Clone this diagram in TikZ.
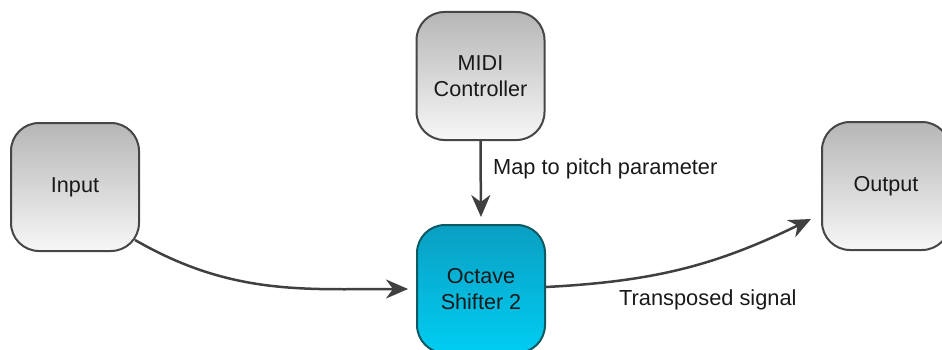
\documentclass[tikz,border=0pt]{standalone}
\usepackage{fontspec}
\setmainfont{Liberation Sans}
\usetikzlibrary{arrows.meta,calc}
\definecolor{grayTop}{HTML}{B6B6B6}
\definecolor{grayBot}{HTML}{F7F7F7}
\definecolor{edgeGray}{HTML}{464646}
\definecolor{tealTop}{HTML}{0A9FC2}
\definecolor{tealBot}{HTML}{00CDF2}
\definecolor{edgeTeal}{HTML}{0E5A62}
\definecolor{wireGray}{HTML}{404040}
\begin{document}
\begin{tikzpicture}[x=1pt,y=1pt,
  block/.style={rounded corners=28pt, minimum width=128pt, minimum height=128pt,
    line width=2pt, align=center, inner sep=0pt,
    font=\fontsize{21.6}{26}\selectfont, text=black!90},
  graybox/.style={block, draw=edgeGray, top color=grayTop, bottom color=grayBot},
  tealbox/.style={block, draw=edgeTeal, top color=tealTop, bottom color=tealBot},
  wire/.style={draw=wireGray, line width=2.5pt,
    -{Stealth[length=22pt,width=19pt,inset=7pt]}},
  lbl/.style={font=\fontsize{21.8}{24}\selectfont, anchor=west, inner sep=0pt, text=black!90}]
\useasboundingbox (0,0) rectangle (942,349);
\clip (0,0) rectangle (942,349);

% blocks
\node[graybox] (in)   at (75,162)    {Input};
\node[graybox] (midi) at (480.5,273) {MIDI\\Controller};
\node[tealbox] (oct)  at (481,60)    {Octave\\Shifter 2};
\node[graybox] (out)  at (886,163)   {Output};

% connector end points
\coordinate (inStart) at ($(in.south east)+(-5,12)$);
\coordinate (outTip)  at ($(out.south west)+(-10,32)$);

% connectors
\draw[wire, shorten >=8pt] (inStart) to[out=-30,in=180] (oct.west);
\draw[wire, shorten >=7pt] (midi.south) -- (oct.north);
\draw[wire] ($(oct.east)+(0,2)$) to[out=3,in=206] (outTip);

% labels
\node[lbl] (mapLbl) at (493,180) {Map to pitch parameter};
\node[lbl] (trLbl)  at (619,49)  {Transposed signal};
\end{tikzpicture}
\end{document}
